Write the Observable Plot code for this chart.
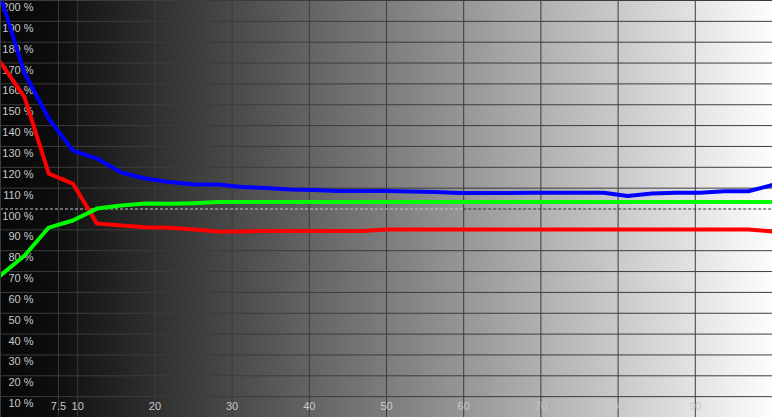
<!DOCTYPE html>
<html><head><meta charset="utf-8">
<script src="https://cdn.jsdelivr.net/npm/d3@7"></script>
<script src="https://cdn.jsdelivr.net/npm/@observablehq/plot@0.6"></script>
<style>html,body{margin:0;padding:0;background:#fff;} #chart svg{display:block}</style>
</head><body><div id="chart"></div>
<script>
// Stimulus levels (% of white)
const levels = [0, 3.125, 6.25, 9.375, 12.5, 15.625, 18.75, 21.875, 25, 28.125, 31.25, 34.375, 37.5, 40.625, 43.75, 46.875, 50, 53.125, 56.25, 59.375, 62.5, 65.625, 68.75, 71.875, 75, 78.125, 81.25, 84.375, 87.5, 90.625, 93.75, 96.875, 100];
// RGB balance (%)
const red   = [170.3, 153.5, 117, 112.2, 93.0, 92.1, 91.3, 91.0, 90.2, 89.2, 89.2, 89.4, 89.4, 89.4, 89.4, 89.4, 90.2, 90.2, 90.2, 90.2, 90.2, 90.2, 90.2, 90.2, 90.2, 90.2, 90.2, 90.2, 90.2, 90.2, 90.2, 90.2, 89.2];
const green = [68.1, 77.7, 91.1, 94.5, 100.2, 101.7, 102.6, 102.5, 102.8, 103.3, 103.3, 103.3, 103.3, 103.3, 103.3, 103.3, 103.3, 103.3, 103.3, 103.3, 103.3, 103.3, 103.3, 103.3, 103.3, 103.3, 103.3, 103.3, 103.3, 103.3, 103.3, 103.3, 103.3];
const blue  = [202, 165, 143.4, 128, 124.2, 117.5, 114.6, 112.9, 111.7, 111.7, 110.5, 110.1, 109.4, 109.1, 108.6, 108.6, 108.6, 108.4, 108.2, 107.7, 107.7, 107.7, 107.8, 107.8, 107.8, 107.8, 106.2, 107.4, 107.8, 107.8, 108.5, 108.5, 111.5];

const yTicks = [10, 20, 30, 40, 50, 60, 70, 80, 90, 100, 110, 120, 130, 140, 150, 160, 170, 180, 190, 200];
const xTicks = [7.5, 10, 20, 30, 40, 50, 60, 70, 80, 90];
const xLabels = ["7.5", "10", "20", "30", "40", "50", "60", "70", "80", "90"];

const toRows = vals => levels.map((x, i) => ({x, y: vals[i]}));
const yGrid = yTicks.filter(v => v !== 100);
const font = "'Liberation Sans', Arial, sans-serif";

const chart = Plot.plot({
  width: 772, height: 417, margin: 0,
  x: {domain: [0, 100], axis: null},
  y: {domain: [0, 200], axis: null},
  style: {background: "transparent"},
  marks: [
    Plot.frame({fill: "url(#bggrad)", stroke: null}),
    Plot.ruleY(yGrid, {stroke: "#3c3c3c", strokeWidth: 1}),
    Plot.ruleX(xTicks, {stroke: "#3c3c3c", strokeWidth: 1}),
    Plot.ruleY([100], {x1: 0, x2: 60, stroke: "#c8c8c8", strokeDasharray: "3,2"}),
    Plot.ruleY([100], {x1: 60, x2: 100, stroke: "#333333", strokeDasharray: "3,2"}),
    Plot.text(yTicks, {y: d => d, text: d => `${d} %`, frameAnchor: "left", dx: 33, dy: 7, textAnchor: "end", fill: "#c8c8c8", fontSize: 11, fontFamily: font}),
    Plot.text(xTicks, {x: d => d, text: (d, i) => xLabels[i], frameAnchor: "bottom", dy: -8, fill: "#c8c8c8", fontSize: 11, fontFamily: font}),
    Plot.line(toRows(red), {x: "x", y: "y", stroke: "#ff0000", strokeWidth: 4, clip: true}),
    Plot.line(toRows(green), {x: "x", y: "y", stroke: "#00ff00", strokeWidth: 4, clip: true}),
    Plot.line(toRows(blue), {x: "x", y: "y", stroke: "#0000ff", strokeWidth: 4, clip: true}),
    Plot.frame({stroke: "#3c3c3c"})
  ]
});

const ns = "http://www.w3.org/2000/svg";
const defs = document.createElementNS(ns, "defs");
defs.innerHTML = `<linearGradient id="bggrad" x1="0" x2="1" y1="0" y2="0">
  <stop offset="0" stop-color="#070707"/>
  <stop offset="0.075" stop-color="#0e0e0e"/>
  <stop offset="0.1" stop-color="#161616"/>
  <stop offset="1" stop-color="#fdfdfd"/>
</linearGradient>`;
chart.insertBefore(defs, chart.firstChild);
document.getElementById("chart").appendChild(chart);
</script>
</body></html>
